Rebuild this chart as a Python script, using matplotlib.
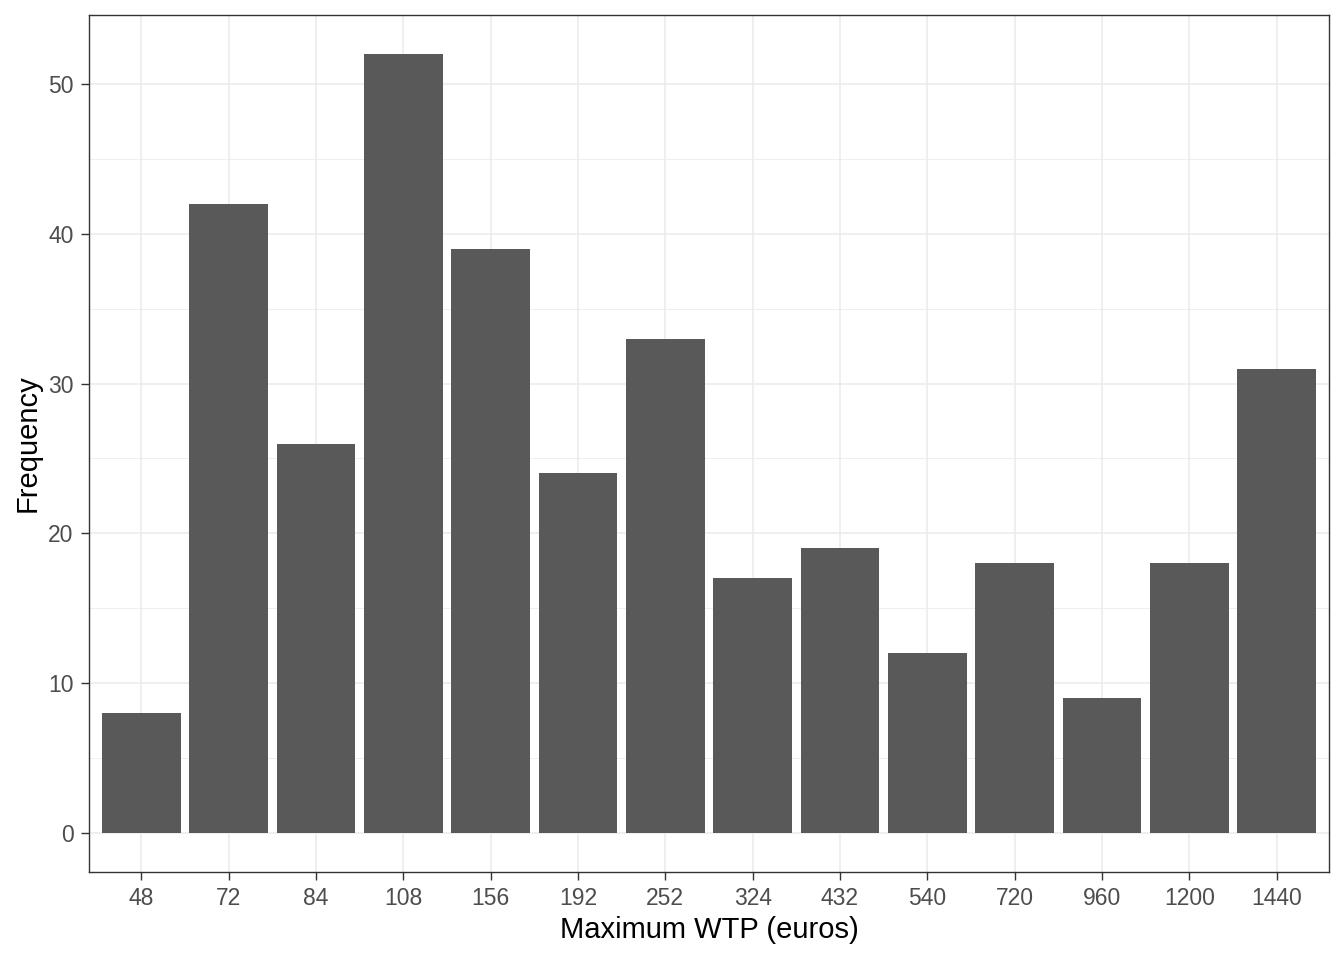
import matplotlib.pyplot as plt
from matplotlib.ticker import MultipleLocator

categories = ["48", "72", "84", "108", "156", "192", "252", "324", "432",
              "540", "720", "960", "1200", "1440"]
counts = [8, 42, 26, 52, 39, 24, 33, 17, 19, 12, 18, 9, 18, 31]

plt.rcParams['font.family'] = ['Liberation Sans', 'DejaVu Sans']

fig = plt.figure(figsize=(13.44, 9.6), dpi=100)
ax = fig.add_axes([89 / 1344, 1 - 872 / 960, 1240 / 1344, 857 / 960])

x = list(range(1, len(categories) + 1))
ax.bar(x, counts, width=0.9, color="#595959", zorder=3)

ax.set_xlim(0.4, len(categories) + 0.6)
ax.set_ylim(-2.6, 54.6)
ax.set_xticks(x)
ax.set_xticklabels(categories)
ax.yaxis.set_major_locator(MultipleLocator(10))
ax.yaxis.set_minor_locator(MultipleLocator(5))

ax.grid(which='major', color="#EBEBEB", linewidth=1.1, zorder=0)
ax.grid(which='minor', axis='y', color="#EBEBEB", linewidth=0.55, zorder=0)
ax.set_axisbelow(True)

for s in ax.spines.values():
    s.set_color("#333333")
    s.set_linewidth(1.0)

ax.tick_params(which='major', length=5.5, width=1.0, color="#333333",
               labelcolor="#4D4D4D", labelsize=16.5, pad=5.5)
ax.tick_params(which='minor', length=0)

ax.set_xlabel("Maximum WTP (euros)", fontsize=21, labelpad=4)
ax.set_ylabel("Frequency", fontsize=21, labelpad=5)

fig.savefig("out.png", dpi=100)
